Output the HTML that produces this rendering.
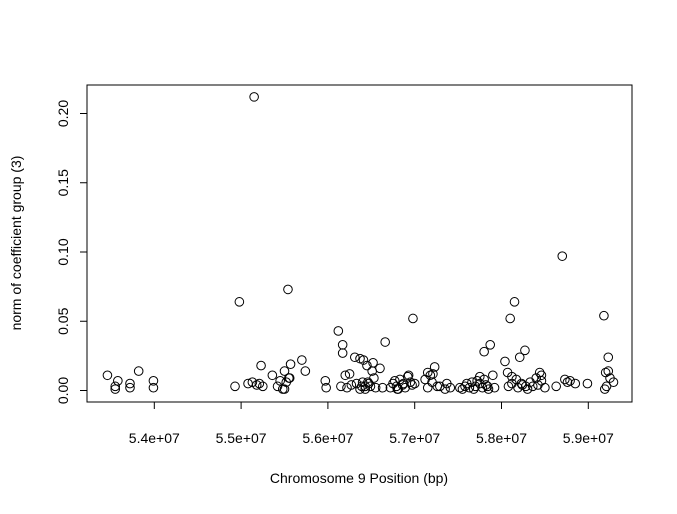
<!DOCTYPE html>
<html><head><meta charset="utf-8"><style>
body{margin:0;background:#fff;}
svg text{font-family:"Liberation Sans",sans-serif;font-size:14px;fill:#000;}
</style></head><body>
<svg id="chart" width="677" height="509" xmlns="http://www.w3.org/2000/svg">
<rect x="87" y="85" width="545" height="317" fill="none" stroke="#000" stroke-width="1"/>
<g id="xaxis"></g>
<g id="yaxis"></g>
<g id="points"></g>
<text x="359" y="483" text-anchor="middle">Chromosome 9 Position (bp)</text>
<text transform="translate(21,243) rotate(-90)" text-anchor="middle">norm of coefficient group (3)</text>
</svg>
<script>
const xTicks=[54,55,56,57,58,59];
const xTickLabels=["5.4e+07","5.5e+07","5.6e+07","5.7e+07","5.8e+07","5.9e+07"];
const yTicks=[0,0.05,0.10,0.15,0.20];
const yTickLabels=["0.00","0.05","0.10","0.15","0.20"];
// positions in Mbp
const posMbp=[53.46,53.55,53.55,53.58,53.72,53.72,53.82,53.99,53.99,
54.93,54.98,55.08,55.15,55.13,55.18,55.21,55.23,55.25,55.36,55.42,55.45,55.48,55.50,55.54,55.55,55.57,55.50,55.70,55.74,55.52,55.56,
55.97,55.98,56.12,56.17,56.17,56.20,56.15,56.22,56.25,56.27,56.31,56.33,56.37,56.39,56.41,56.43,56.45,56.47,56.49,56.51,56.37,56.43,56.46,56.52,56.55,56.60,56.63,56.66,56.53,56.40,
56.72,56.75,56.77,56.79,56.81,56.83,56.86,56.89,56.92,56.95,56.97,56.80,56.87,56.93,56.98,57.00,
57.12,57.15,57.18,57.20,57.23,57.26,57.15,57.21,57.29,57.35,57.37,57.41,
57.52,57.55,57.58,57.60,57.63,57.66,57.68,57.70,57.72,57.75,57.78,57.80,57.82,57.85,57.87,57.75,57.80,57.84,57.90,57.92,
58.04,58.07,58.10,58.12,58.15,58.17,58.19,58.21,58.24,58.27,58.30,58.33,58.36,58.40,58.44,58.46,58.50,58.08,58.12,58.23,58.28,58.42,58.46,
58.63,58.70,58.73,58.76,58.79,58.85,58.99,
59.18,59.20,59.23,59.21,59.25,59.29,59.19,59.23];
const normVals=[0.011,0.001,0.003,0.007,0.005,0.002,0.014,0.007,0.002,
0.003,0.064,0.005,0.212,0.006,0.004,0.005,0.018,0.003,0.011,0.003,0.007,0.001,0.014,0.073,0.009,0.019,0.001,0.022,0.014,0.006,0.009,
0.007,0.002,0.043,0.033,0.027,0.011,0.003,0.002,0.012,0.004,0.024,0.005,0.023,0.003,0.022,0.001,0.018,0.005,0.003,0.014,0.001,0.003,0.006,0.020,0.002,0.016,0.002,0.035,0.009,0.006,
0.002,0.005,0.007,0.003,0.001,0.008,0.004,0.002,0.010,0.006,0.004,0.001,0.005,0.011,0.052,0.005,
0.008,0.013,0.011,0.006,0.017,0.003,0.002,0.012,0.003,0.001,0.005,0.002,
0.002,0.001,0.003,0.005,0.002,0.006,0.001,0.003,0.007,0.010,0.002,0.028,0.004,0.001,0.033,0.005,0.008,0.003,0.011,0.002,
0.021,0.013,0.052,0.005,0.064,0.008,0.002,0.024,0.004,0.029,0.001,0.006,0.003,0.009,0.013,0.007,0.002,0.003,0.010,0.005,0.003,0.004,0.011,
0.003,0.097,0.008,0.006,0.007,0.005,0.005,
0.054,0.013,0.024,0.003,0.009,0.006,0.001,0.014];
const NS="http://www.w3.org/2000/svg";
function xs(v){return 154.3+(v-54)*86.8;}
function ys(v){return 390.5-v*1385;}
const xa=document.getElementById('xaxis'),ya=document.getElementById('yaxis'),pg=document.getElementById('points');
function mk(t,a,p){const e=document.createElementNS(NS,t);for(const k in a)e.setAttribute(k,a[k]);p.appendChild(e);return e;}
mk('line',{x1:xs(xTicks[0]),x2:xs(xTicks[xTicks.length-1]),y1:402,y2:402,stroke:'#000'},xa);
xTicks.forEach((t,i)=>{
 const l=mk('line',{x1:xs(t),x2:xs(t),y1:402,y2:409,stroke:'#000'},xa);
 
 
 const tx=mk('text',{x:xs(t),y:443,'text-anchor':'middle'},xa);tx.textContent=xTickLabels[i];
 
 
});
mk('line',{x1:87,x2:87,y1:ys(yTicks[0]),y2:ys(yTicks[yTicks.length-1]),stroke:'#000'},ya);
yTicks.forEach((t,i)=>{
 const l=mk('line',{x1:80,x2:87,y1:ys(t),y2:ys(t),stroke:'#000'},ya);
 
 
 const tx=mk('text',{transform:`translate(68,${ys(t)}) rotate(-90)`,'text-anchor':'middle'},ya);tx.textContent=yTickLabels[i];
 
 
});
posMbp.forEach((x,i)=>{
 const c=mk('circle',{cx:xs(x),cy:ys(normVals[i]),r:4.3,fill:'none',stroke:'#000','stroke-width':1},pg);
 
 
});
</script>
</body></html>
